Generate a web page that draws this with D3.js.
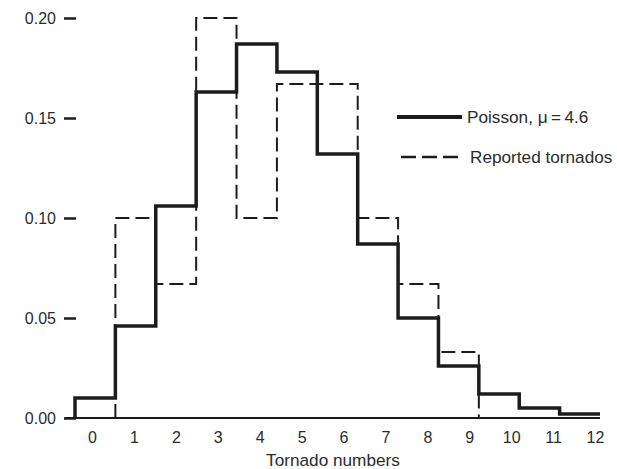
<!DOCTYPE html>
<html>
<head>
<meta charset="utf-8">
<script src="https://cdn.jsdelivr.net/npm/d3@7"></script>
<style>
  body { margin: 0; background: #fff; }
  text { font-family: "Liberation Sans", Arial, sans-serif; fill: #2b2b2b; }
</style>
</head>
<body>
<svg width="617" height="469"></svg>
<script>
// tornado counts per year, 0..12
var counts = [0, 1, 2, 3, 4, 5, 6, 7, 8, 9, 10, 11, 12];
// fitted Poisson probabilities (mu = 4.6)
var poisson = [0.010, 0.046, 0.106, 0.163, 0.187, 0.173, 0.132, 0.087, 0.050, 0.026, 0.012, 0.005, 0.002];
// observed relative frequencies
var reported = [0, 0.100, 0.067, 0.200, 0.100, 0.167, 0.167, 0.100, 0.067, 0.033, 0, 0, 0];
var yTicks = [0, 0.05, 0.10, 0.15, 0.20];

var svg = d3.select("svg");
var ink = "#1c1c1c";

// bins sit on [k-0.5, k+0.5]
var x = d3.scaleLinear().domain([-0.5, 12.5]).range([75, 600]);
// tick labels are spaced a bit wider than the bins in the original
var xl = d3.scaleLinear().domain([0, 12]).range([92, 595]);
var y = d3.scaleLinear().domain([0, 0.2]).range([418, 18]);

// baseline
svg.append("line")
  .attr("x1", 65).attr("x2", x(12.5))
  .attr("y1", y(0)).attr("y2", y(0))
  .attr("stroke", ink).attr("stroke-width", 2);

// y axis: ticks only, no spine
var ya = svg.append("g")
  .attr("transform", "translate(76,0)")
  .call(d3.axisLeft(y).tickValues(yTicks).tickFormat(d3.format(".2f"))
        .tickSize(12).tickPadding(8));
ya.select(".domain").remove();
ya.selectAll(".tick line").attr("stroke", ink).attr("stroke-width", 2.5);
ya.selectAll("text").style("font-size", "16px").attr("fill", "#2b2b2b");

// x axis labels
var xa = svg.append("g")
  .attr("transform", "translate(0," + y(0) + ")")
  .call(d3.axisBottom(xl).tickValues(counts).tickFormat(d3.format("d"))
        .tickSize(0).tickPadding(14));
xa.select(".domain").remove();
xa.selectAll("text").style("font-size", "16px").attr("fill", "#2b2b2b");

svg.append("text")
  .attr("x", 333).attr("y", 466)
  .attr("text-anchor", "middle")
  .style("font-size", "17.2px")
  .text("Tornado numbers");

// step outline for a series; from/to are the bins where it leaves the baseline
function steps(vals, from, to) {
  var pts = [[from - 0.5, 0]];
  for (var i = from; i <= to; i++) {
    pts.push([i - 0.5, vals[i]]);
    pts.push([i + 0.5, vals[i]]);
  }
  return pts;
}

var line = d3.line()
  .x(function(d) { return x(d[0]); })
  .y(function(d) { return y(d[1]); });

var rep = steps(reported, 1, 9);
rep.push([9.5, 0]);
svg.append("path")
  .datum(rep)
  .attr("d", line)
  .attr("fill", "none")
  .attr("stroke", ink)
  .attr("stroke-width", 2)
  .attr("stroke-dasharray", "14,6");

svg.append("path")
  .datum(steps(poisson, 0, 12))
  .attr("d", line)
  .attr("fill", "none")
  .attr("stroke", ink)
  .attr("stroke-width", 3.5)
  .attr("stroke-linejoin", "miter");

// legend
var legend = [
  {label: "Poisson, \u03bc\u2009=\u20094.6", width: 4, dash: null, x0: 397, tx: 467, y: 117},
  {label: "Reported tornados", width: 2.5, dash: "15,6", x0: 401, tx: 470, y: 157}
];
legend.forEach(function(d) {
  svg.append("line")
    .attr("x1", d.x0).attr("x2", 462)
    .attr("y1", d.y).attr("y2", d.y)
    .attr("stroke", ink)
    .attr("stroke-width", d.width)
    .attr("stroke-dasharray", d.dash);
  svg.append("text")
    .attr("x", d.tx).attr("y", d.y + 6)
    .style("font-size", "17.2px")
    .text(d.label);
});
</script>
</body>
</html>
